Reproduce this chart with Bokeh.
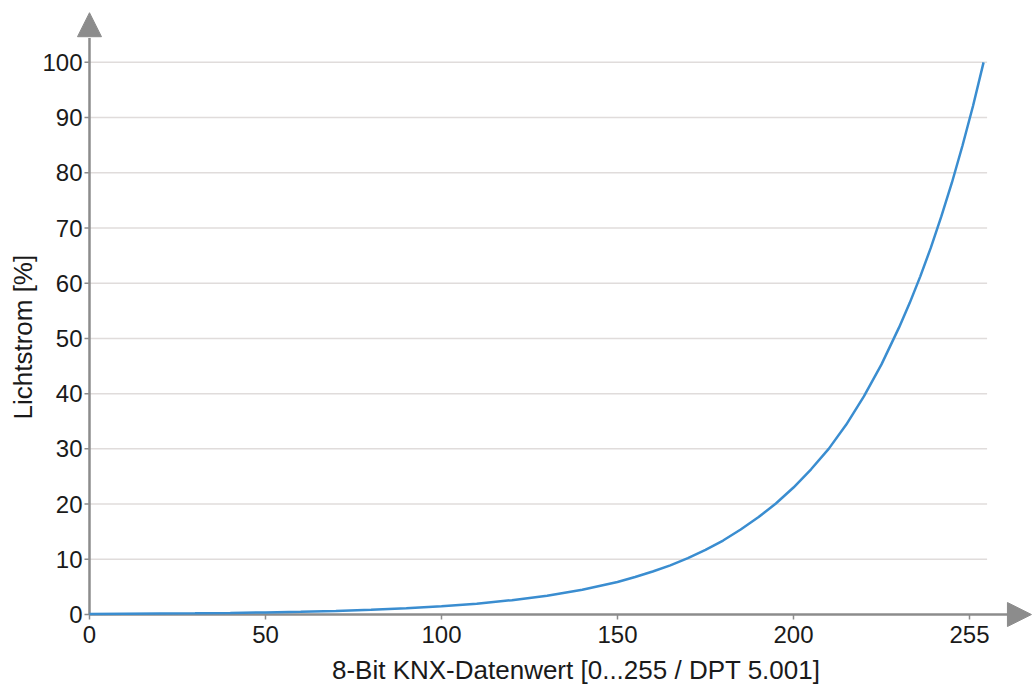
from bokeh.plotting import figure
from bokeh.models import Range1d, FixedTicker, Arrow, NormalHead, Title
from bokeh.embed import file_html
from bokeh.resources import INLINE

# ---- data ----
dim_value = [0, 10, 20, 30, 40, 50, 60, 70, 80, 90, 100, 110, 120, 130, 140, 150,
             155, 160, 165, 170, 175, 180, 185, 190, 195, 200, 205, 210, 215, 220,
             225, 230, 233, 236, 239, 242, 245, 248, 251, 254]
luminous_flux = [0.1, 0.13, 0.17, 0.22, 0.29, 0.38, 0.5, 0.66, 0.87, 1.14, 1.5, 1.97,
                 2.6, 3.4, 4.5, 5.9, 6.8, 7.8, 8.9, 10.2, 11.7, 13.4, 15.4, 17.6, 20.1,
                 23.0, 26.3, 30.0, 34.4, 39.5, 45.3, 52.0, 56.4, 61.2, 66.4, 72.1,
                 78.2, 84.9, 92.1, 100.0]

x_ticks = [0, 50, 100, 150, 200, 250]
x_tick_labels = ["0", "50", "100", "150", "200", "255"]
y_ticks = [0, 10, 20, 30, 40, 50, 60, 70, 80, 90, 100]
grid_levels = [10, 20, 30, 40, 50, 60, 70, 80, 90, 100]
x_label = "8-Bit KNX-Datenwert [0...255 / DPT 5.001]"
y_label = "Lichtstrom [%]"

X_MAX_DATA = 255
X_START, X_END = -3.69, 267.9
Y_START, Y_END = -2.35, 109.39
X_TICK_LEN = 1.42   # ~5px in x data units
Y_TICK_LEN = 0.9    # ~5px in y data units

FONT = "Liberation Sans"
TEXT_COLOR = "#1a1a1a"
AXIS_COLOR = "#8c8c8c"
GRID_COLOR = "#e0dcdb"
LINE_COLOR = "#3a8dd0"

p = figure(width=1032, height=687, output_backend="svg", toolbar_location=None,
           x_range=Range1d(X_START, X_END), y_range=Range1d(Y_START, Y_END),
           min_border_left=76, min_border_right=0, min_border_top=10, min_border_bottom=58)
p.outline_line_color = None
p.xgrid.visible = False
p.ygrid.visible = False

# grid lines
p.segment(x0=[0] * len(grid_levels), y0=grid_levels,
          x1=[X_MAX_DATA] * len(grid_levels), y1=grid_levels,
          line_color=GRID_COLOR, line_width=1.5)

# axis lines and tick marks (drawn inside the frame so the arrow heads fit)
p.segment(x0=[0, 0], y0=[0, 0], x1=[0, X_END - 5], y1=[Y_END - 5, 0],
          line_color=AXIS_COLOR, line_width=2.5)
p.segment(x0=[-X_TICK_LEN] * len(y_ticks), y0=y_ticks, x1=[0] * len(y_ticks), y1=y_ticks,
          line_color=AXIS_COLOR, line_width=1.5)
p.segment(x0=x_ticks, y0=[-Y_TICK_LEN] * len(x_ticks), x1=x_ticks, y1=[0] * len(x_ticks),
          line_color=AXIS_COLOR, line_width=1.5)

# curve
p.line(dim_value, luminous_flux, line_color=LINE_COLOR, line_width=2.5)

# arrow heads
p.add_layout(Arrow(end=NormalHead(size=24, fill_color=AXIS_COLOR, line_color=AXIS_COLOR),
                   x_start=0, y_start=100, x_end=0, y_end=Y_END - 0.4, line_alpha=0))
p.add_layout(Arrow(end=NormalHead(size=24, fill_color=AXIS_COLOR, line_color=AXIS_COLOR),
                   x_start=255, y_start=0, x_end=X_END - 0.3, y_end=0, line_alpha=0))


def style(ax):
    ax.axis_line_color = None
    ax.major_tick_line_color = None
    ax.minor_tick_line_color = None
    ax.major_tick_out = 0
    ax.major_tick_in = 0
    ax.major_label_text_font = FONT
    ax.major_label_text_font_size = "24px"
    ax.major_label_text_color = TEXT_COLOR
    ax.axis_label_text_font = FONT
    ax.axis_label_text_font_size = "26px"
    ax.axis_label_text_font_style = "normal"
    ax.axis_label_text_color = TEXT_COLOR


xa = p.xaxis[0]
style(xa)
xa.ticker = FixedTicker(ticks=x_ticks)
xa.major_label_overrides = {t: l for t, l in zip(x_ticks, x_tick_labels)}
xa.major_label_standoff = -2
# leading no-break spaces shift the centred title right, as in the reference
xa.axis_label = "\u00a0" * 6 + x_label
xa.axis_label_standoff = 9

ya = p.yaxis[0]
style(ya)
ya.ticker = FixedTicker(ticks=y_ticks)
ya.major_label_standoff = -6

# y axis title
p.add_layout(Title(text=y_label, align="left", offset=208, standoff=3,
                   text_font=FONT, text_font_size="26px", text_font_style="normal",
                   text_color=TEXT_COLOR), "left")

open("out.html", "w").write(file_html(p, INLINE))
